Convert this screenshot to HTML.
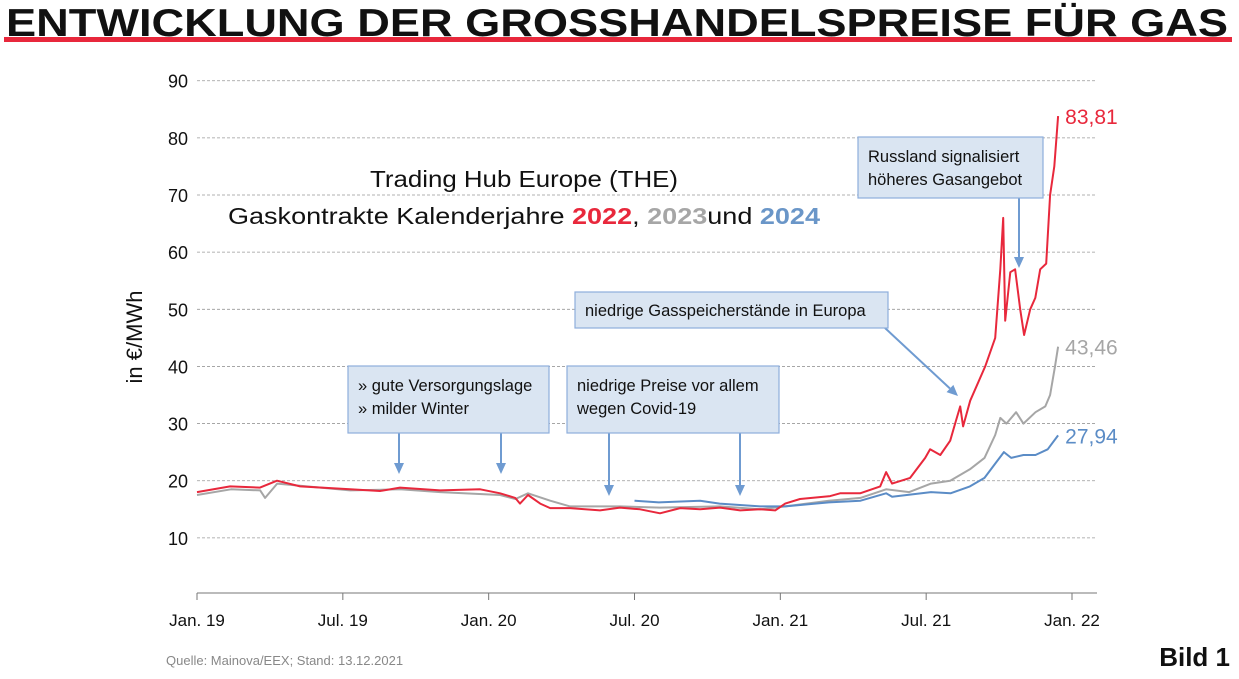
<!DOCTYPE html>
<html><head><meta charset="utf-8"><style>
body{margin:0;background:#fff;width:1239px;height:679px;overflow:hidden;font-family:"Liberation Sans",sans-serif}
svg{position:absolute;left:0;top:0}
</style></head><body>
<svg id="c" width="1239" height="679">
<text x="6" y="36" font-size="39" font-weight="bold" fill="#111" textLength="1222" lengthAdjust="spacingAndGlyphs">ENTWICKLUNG DER GROSSHANDELSPREISE FÜR GAS</text>
<rect x="4" y="37" width="1228" height="5" fill="#e8283c"/>
<g id="grid"></g><g id="axes"></g><g id="series"></g>
<text transform="translate(142,337) rotate(-90)" text-anchor="middle" font-size="22" fill="#111">in €/MWh</text>
<text x="370" y="187" font-size="23" fill="#111" textLength="308" lengthAdjust="spacingAndGlyphs">Trading Hub Europe (THE)</text>
<text x="228" y="224" font-size="23" fill="#111" textLength="592" lengthAdjust="spacingAndGlyphs">Gaskontrakte Kalenderjahre <tspan fill="#e8283c" font-weight="bold">2022</tspan>, <tspan fill="#a6a6a6" font-weight="bold">2023</tspan>und <tspan fill="#6a96c8" font-weight="bold">2024</tspan></text>
<g id="notes" font-size="16.5" fill="#111"></g>
<text x="166" y="665" font-size="13" fill="#888">Quelle: Mainova/EEX; Stand: 13.12.2021</text>
<text x="1230" y="666" text-anchor="end" font-size="26" font-weight="bold" fill="#111">Bild 1</text>
</svg>
<script>
const yTicks=[10,20,30,40,50,60,70,80,90];
const xTickLabels=["Jan. 19","Jul. 19","Jan. 20","Jul. 20","Jan. 21","Jul. 21","Jan. 22"];
const xTickMonths=[0,6,12,18,24,30,36];
const redMonths=[0,1.36,2.59,3.29,4.24,6.3,7.53,8.35,10,11.65,12.47,13.09,13.29,13.62,14.12,14.53,15.35,16.58,17.4,18.23,19.05,19.88,20.7,21.52,22.35,23.17,23.79,24.2,24.81,26.05,26.46,27.28,28.11,28.35,28.6,29.34,29.96,30.16,30.58,30.99,31.19,31.4,31.52,31.81,32.43,32.84,33.05,33.17,33.25,33.46,33.66,33.87,34.03,34.28,34.49,34.69,34.94,35.1,35.27,35.43];
const redValues=[18,19,18.8,20,19,18.5,18.2,18.8,18.3,18.5,17.8,17,16,17.5,16,15.2,15.2,14.8,15.3,15,14.3,15.2,15,15.3,14.8,15,14.8,16,16.8,17.3,17.8,17.8,19,21.5,19.5,20.5,24,25.5,24.5,27,30,33,29.5,34,40,45,57,66,48,56.5,57,50,45.5,50,52,57,58,70,75,83.81];
const grayMonths=[0,1.4,2.6,2.8,3.3,6.3,8.35,10,12.47,13.1,13.62,14.53,15.35,17.4,19.05,21.5,23.17,24.2,26,27.3,28.35,29.3,30.2,30.99,31.8,32.4,32.84,33.05,33.3,33.7,34,34.5,34.9,35.1,35.3,35.43];
const grayValues=[17.5,18.5,18.3,17,19.5,18.3,18.5,18,17.5,16.8,17.8,16.5,15.5,15.5,15.3,15.5,15,15.5,16.5,17,18.5,18,19.5,20,22,24,28,31,30,32,30,32,33,35,40,43.46];
const blueMonths=[18,19,20.7,21.5,23.17,24.2,26,27.3,28.35,28.6,30.2,31,31.8,32.4,32.84,33.2,33.5,34,34.5,35,35.43];
const blueValues=[16.5,16.2,16.5,16,15.5,15.5,16.2,16.5,17.8,17.2,18,17.8,19,20.5,23,25,24,24.5,24.5,25.5,27.94];
const endLabels=["83,81","43,46","27,94"];
const NS="http://www.w3.org/2000/svg";
const X=m=>197+m*(875/36), Y=v=>595-v*5.714;
function mk(t,a,p){const e=document.createElementNS(NS,t);for(const k in a)e.setAttribute(k,a[k]);p.appendChild(e);return e;}
const grid=document.getElementById('grid'),axes=document.getElementById('axes'),ser=document.getElementById('series'),notes=document.getElementById('notes');
yTicks.forEach(v=>{const l=mk('line',{x1:197,x2:1097,y1:Y(v),y2:Y(v),stroke:'#999','stroke-dasharray':'3,2','stroke-width':0.8},grid);


const t=mk('text',{x:188,y:Y(v)+7,'text-anchor':'end','font-size':18,fill:'#111'},axes);t.textContent=v;

});
const ax=mk('line',{x1:197,x2:1097,y1:593,y2:593,stroke:'#777','stroke-width':1},axes);


xTickMonths.forEach((m,i)=>{mk('line',{x1:X(m),x2:X(m),y1:593,y2:600,stroke:'#777'},axes);
const t=mk('text',{x:X(m),y:626,'text-anchor':'middle','font-size':17,fill:'#111'},axes);t.textContent=xTickLabels[i];

});
function line(ms,vs,col,name){const d=ms.map((m,i)=>(i?'L':'M')+X(m).toFixed(1)+','+Y(vs[i]).toFixed(1)).join('');
const p=mk('path',{d:d,fill:'none',stroke:col,'stroke-width':2,'stroke-linejoin':'round'},ser);

return p;}
line(grayMonths,grayValues,'#a6a6a6','series-2023');
line(blueMonths,blueValues,'#5b8cc6','series-2024');
line(redMonths,redValues,'#e8283c','series-2022');
[[redMonths,redValues,'#e8283c'],[grayMonths,grayValues,'#a6a6a6'],[blueMonths,blueValues,'#5b8cc6']].forEach((s,i)=>{
const n=s[0].length-1;const t=mk('text',{x:X(s[0][n])+7,y:Y(s[1][n])+8,'font-size':21,fill:s[2]},ser);t.textContent=endLabels[i];

});
function box(x,y,w,h,lines,name){const g=mk('g',{},notes);
mk('rect',{x:x,y:y,width:w,height:h,fill:'#dae5f2',stroke:'#8eaedb','stroke-width':1.2},g);
lines.forEach((s,i)=>{const t=mk('text',{x:x+10,y:y+(lines.length==1?24:25+i*23)},g);t.textContent=s;});}
function arrow(x1,y1,x2,y2){const a=Math.atan2(y2-y1,x2-x1),L=11,W=5;
const bx=x2-L*Math.cos(a),by=y2-L*Math.sin(a);
const g=mk('g',{},notes);
mk('line',{x1:x1,y1:y1,x2:bx,y2:by,stroke:'#6f9bd1','stroke-width':2},g);
mk('polygon',{points:`${x2},${y2} ${bx-W*Math.sin(a)},${by+W*Math.cos(a)} ${bx+W*Math.sin(a)},${by-W*Math.cos(a)}`,fill:'#6f9bd1'},g);}
arrow(399,433,399,474);arrow(501,433,501,474);arrow(609,433,609,496);arrow(740,433,740,496);
arrow(1019,198,1019,268);arrow(885,328,958,396);
box(348,366,201,67,["» gute Versorgungslage","» milder Winter"],'note-versorgung');
box(567,366,212,67,["niedrige Preise vor allem","wegen Covid-19"],'note-covid');
box(575,292,313,36,["niedrige Gasspeicherstände in Europa"],'note-speicher');
box(858,137,185,61,["Russland signalisiert","höheres Gasangebot"],'note-russland');
</script>
</body></html>
